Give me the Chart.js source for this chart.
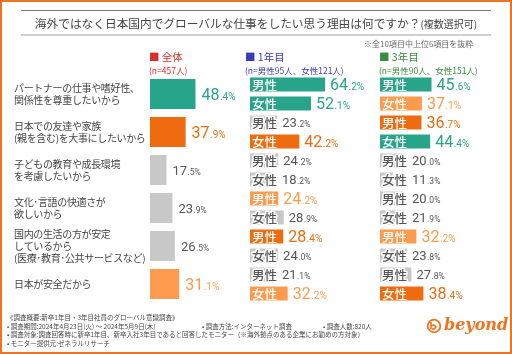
<!DOCTYPE html>
<html><head><meta charset="utf-8">
<script src="https://cdn.jsdelivr.net/npm/chart.js@4.4.1/dist/chart.umd.min.js"></script>
<style>
html,body{margin:0;padding:0;background:#fff;}
#wrap{position:relative;width:512px;height:354px;overflow:hidden;font-family:"Noto Sans CJK JP",sans-serif;color:#444;}
#frame{position:absolute;left:0;top:0;width:512px;height:354px;box-sizing:border-box;border:2px solid #f0731f;pointer-events:none;}
canvas{position:absolute;left:0;top:0;}
.t{position:absolute;white-space:nowrap;}
.line{position:absolute;}
.foot{position:absolute;left:7px;font-size:6.5px;line-height:8px;color:#444;white-space:nowrap;}
</style></head>
<body>
<div id="wrap">
<canvas id="c" width="512" height="354"></canvas>
<div class="line" style="left:21px;top:10px;width:470px;height:1px;background:#777;"></div>
<div class="line" style="left:21px;top:34px;width:470px;height:2px;background:#cfcfcf;"></div>
<div class="t" style="left:0;top:15px;width:512px;text-align:center;font-size:11.7px;line-height:16px;color:#444;">海外ではなく日本国内でグローバルな仕事をしたい思う理由は何ですか？<span style="font-size:10px;">(複数選択可)</span></div>
<div class="t" style="left:364px;top:39px;font-size:8px;line-height:10px;color:#666;">※全10項目中上位6項目を抜粋</div>

<div class="t" style="left:149px;top:50px;font-size:10.5px;line-height:14px;color:#d9302a;">■ 全体</div>
<div class="t" style="left:149px;top:65px;font-size:8.5px;line-height:10px;color:#d9302a;">(n=457人)</div>
<div class="t" style="left:245px;top:50px;font-size:10.5px;line-height:14px;color:#3b3bb8;">■ 1年目</div>
<div class="t" style="left:245px;top:65px;font-size:8.5px;line-height:10px;color:#3b3bb8;">(n=男性95人、女性121人)</div>
<div class="t" style="left:379px;top:50px;font-size:10.5px;line-height:14px;color:#3a8c3f;">■ 3年目</div>
<div class="t" style="left:379px;top:65px;font-size:8.5px;line-height:10px;color:#3a8c3f;">(n=男性90人、女性151人)</div>

<div class="foot" style="top:313px;">《調査概要:新卒1年目・3年目社員のグローバル意識調査》</div>
<div class="foot" style="top:322px;">• 調査期間:2024年4月23日(火) ～ 2024年5月9日(木)</div>
<div class="foot" style="top:322px;left:202px;">• 調査方法:インターネット調査</div>
<div class="foot" style="top:322px;left:323px;">• 調査人数:820人</div>
<div class="foot" style="top:330px;">• 調査対象:調査回答時に新卒1年目、新卒入社3年目であると回答したモニター（※海外拠点のある企業にお勤めの方対象）</div>
<div class="foot" style="top:339px;">• モニター提供元:ゼネラルリサーチ</div>

<svg style="position:absolute;left:426px;top:318px;" width="16" height="16" viewBox="0 0 16 16">
<circle cx="8" cy="8" r="6.3" fill="none" stroke="#f0731f" stroke-width="1.8"/>
<path d="M5 4 L5 11 M5 8 Q8 6 10 8.5 Q9 11.5 6 11" fill="none" stroke="#f0731f" stroke-width="1.6"/>
</svg>
<div class="t" style="left:444px;top:314px;font-family:'DejaVu Serif',serif;font-weight:bold;font-style:italic;font-size:16px;line-height:22px;color:#f0731f;">beyond</div>
<div id="frame"></div>
</div>
<script>
const categories = [
  ['パートナーの仕事や嗜好性、','関係性を尊重したいから'],
  ['日本での友達や家族','(親を含む)を大事にしたいから'],
  ['子どもの教育や成長環境','を考慮したいから'],
  ['文化･言語の快適さが','欲しいから'],
  ['国内の生活の方が安定','しているから','(医療･教育･公共サービスなど)'],
  ['日本が安全だから']
];
const totalValues   = [48.4, 37.9, 17.5, 23.9, 26.5, 31.1];
const year1Male     = [64.2, 23.2, 24.2, 24.2, 28.4, 21.1];
const year1Female   = [52.1, 42.2, 18.2, 28.9, 24.0, 32.2];
const year3Male     = [45.6, 36.7, 20.0, 20.0, 32.2, 27.8];
const year3Female   = [37.1, 44.4, 11.3, 21.9, 23.8, 38.4];
const genderLabels  = ['男性', '女性'];

// highlight rank (1=teal, 2=dark orange, 3=light orange, 0=gray)
const totalRank   = [1, 2, 0, 0, 0, 3];
const y1MaleRank  = [1, 0, 0, 3, 2, 0];
const y1FemRank   = [1, 2, 0, 0, 0, 3];
const y3MaleRank  = [1, 2, 0, 0, 3, 0];
const y3FemRank   = [3, 1, 0, 0, 0, 2];
const rankColors  = ['#c8c8c8', '#27a489', '#ee6b10', '#ff9b4e'];
const rankText    = ['#555555', '#27a489', '#ee6b10', '#ff9b4e'];

const subRows = categories.flatMap((c, i) => [i + 'M', i + 'F']);

function genderSet(values, ranks, g, xAxis) {
  return {
    data: values.map((v, i) => ({ x: v, y: i + g })),
    backgroundColor: ranks.map(r => rankColors[r]),
    ranks: ranks,
    gender: g === 'M' ? genderLabels[0] : genderLabels[1],
    xAxisID: xAxis, yAxisID: 'y2',
    barPercentage: 0.74, categoryPercentage: 1, grouped: false
  };
}

function drawValue(ctx, v, x, cy, color, big) {
  const s = v.toFixed(1);
  const parts = s.split('.');
  const f1 = big ? 16 : 13, f2 = big ? 10 : 8.5;
  ctx.save();
  ctx.letterSpacing = '0px';
  ctx.fillStyle = color;
  ctx.textBaseline = 'alphabetic';
  ctx.textAlign = 'left';
  const base = cy + f1 * 0.711 / 2;
  ctx.font = `400 ${f1}px Roboto`;
  ctx.fillText(parts[0], x, base);
  const w = ctx.measureText(parts[0]).width;
  ctx.font = `400 ${f2}px Roboto`;
  ctx.fillText('.' + parts[1] + '%', x + w + 0.5, base);
  ctx.restore();
}

const spacingPlugin = {
  id: 'tightLabels',
  beforeDraw(chart) { chart.ctx.letterSpacing = '-0.35px'; },
  beforeDatasetsDraw(chart) { chart.ctx.letterSpacing = '0px'; }
};

const labelPlugin = {
  id: 'valueLabels',
  afterDatasetsDraw(chart) {
    const ctx = chart.ctx;
    chart.data.datasets.forEach((ds, di) => {
      const meta = chart.getDatasetMeta(di);
      meta.data.forEach((el, i) => {
        const raw = ds.data[i];
        const v = typeof raw === 'object' ? raw.x : raw;
        const rank = ds.ranks[i];
        const left = el.base, right = el.x, cy = el.y;
        let start = right;
        if (ds.gender) {
          ctx.save();
          ctx.letterSpacing = '0px';
          ctx.font = '500 12.5px "Noto Sans CJK JP"';
          ctx.textBaseline = 'middle';
          ctx.textAlign = 'left';
          const lx = left + 2;
          const w = ctx.measureText(ds.gender).width;
          if (rank) {
            ctx.fillStyle = '#ffffff';
            ctx.fillText(ds.gender, lx, cy + 0.5);
          } else {
            ctx.strokeStyle = '#ffffff';
            ctx.lineWidth = 3;
            ctx.lineJoin = 'round';
            ctx.strokeText(ds.gender, lx, cy + 0.5);
            ctx.fillStyle = '#555555';
            ctx.fillText(ds.gender, lx, cy + 0.5);
          }
          ctx.restore();
          start = Math.max(right, lx + w);
          drawValue(ctx, v, start + 5, cy, rankText[rank], rank > 0);
        } else {
          drawValue(ctx, v, start + 6, cy, rankText[rank], rank > 0);
        }
      });
    });
  }
};

new Chart(document.getElementById('c'), {
  type: 'bar',
  data: {
    labels: categories,
    datasets: [
      {
        data: totalValues,
        backgroundColor: totalRank.map(r => rankColors[r]),
        ranks: totalRank,
        xAxisID: 'x', yAxisID: 'y',
        barPercentage: 0.79, categoryPercentage: 1, grouped: false
      },
      genderSet(year1Male, y1MaleRank, 'M', 'x2'),
      genderSet(year1Female, y1FemRank, 'F', 'x2'),
      genderSet(year3Male, y3MaleRank, 'M', 'x3'),
      genderSet(year3Female, y3FemRank, 'F', 'x3')
    ]
  },
  options: {
    indexAxis: 'y',
    responsive: false,
    animation: false,
    events: [],
    layout: { padding: { left: 14, right: 7, top: 75, bottom: 51 } },
    plugins: { legend: { display: false }, tooltip: { enabled: false } },
    scales: {
      x:  { display: false, min: 0, max: 377.7 },
      x2: { display: false, min: -85.5, max: 218 },
      x3: { display: false, min: -203.5, max: 110.6 },
      y: {
        position: 'left',
        grid: { display: false },
        border: { display: false },
        ticks: {
          autoSkip: false,
          crossAlign: 'far',
          padding: 0,
          color: '#444',
          font: { family: '"Noto Sans CJK JP"', size: 10, lineHeight: 1.2 }
        },
        afterFit(scale) { scale.width = 136; }
      },
      y2: { display: false, type: 'category', labels: subRows }
    }
  },
  plugins: [spacingPlugin, labelPlugin]
});
</script>
</body></html>
